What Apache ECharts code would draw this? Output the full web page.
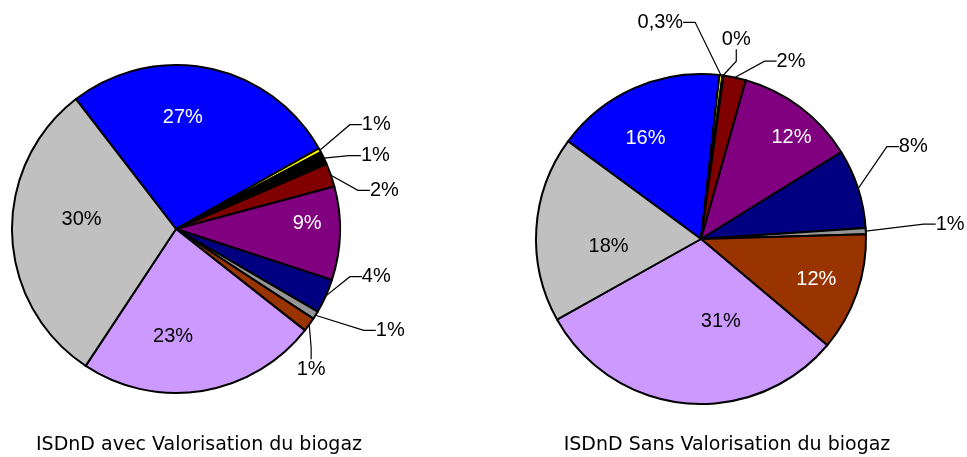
<!DOCTYPE html>
<html>
<head>
<meta charset="utf-8">
<script src="https://cdn.jsdelivr.net/npm/echarts@6/dist/echarts.min.js"></script>
<style>
  html, body { margin: 0; padding: 0; background: #fff; }
  #chart { width: 967px; height: 457px; }
</style>
</head>
<body>
<div id="chart"></div>
<script>
// ---------------- DATA ----------------
var categories = ['Catégorie 1', 'Catégorie 2', 'Catégorie 3', 'Catégorie 4', 'Catégorie 5',
                  'Catégorie 6', 'Catégorie 7', 'Catégorie 8', 'Catégorie 9', 'Catégorie 10'];
var valuesAvec = [27.3, 0.4, 1.3, 2.3, 9.2, 3.4, 0.8, 1.4, 23.7, 30.3];
var labelsAvec = ['27%', '1%', '1%', '2%', '9%', '4%', '1%', '1%', '23%', '30%'];
var valuesSans = [16.7, 0.3, 0.1, 2.2, 11.8, 7.75, 0.6, 11.6, 30.75, 18.2];
var labelsSans = ['16%', '0,3%', '0%', '2%', '12%', '8%', '1%', '12%', '31%', '18%'];
var titles = ['ISDnD avec Valorisation du biogaz', 'ISDnD Sans Valorisation du biogaz'];

// ---------------- STYLE ----------------
var colors = ['#0000FF', '#FFFF00', '#000000', '#800000', '#800080',
              '#000080', '#969696', '#993300', '#CC99FF', '#C0C0C0'];
var whiteText = [true, false, false, false, true, false, false, true, false, false];
// label placement relative to pie centre, in units of radius: [fx, fy, inside?, align]
var posAvec = [
  [0.042, -0.679, true], [1.115, -0.636, false], [1.109, -0.448, false], [1.164, -0.236, false],
  [0.800, -0.036, true], [1.115, 0.291, false], [1.200, 0.618, false], [0.824, 0.855, false, 'center'],
  [-0.018, 0.655, true], [-0.576, -0.055, true]
];
var posSans = [
  [-0.337, -0.608, true], [-0.090, -1.313, false, 'right'], [0.108, -1.211, false], [0.440, -1.078, false],
  [0.548, -0.614, true], [1.181, -0.560, false], [1.404, -0.090, false], [0.699, 0.247, true],
  [0.120, 0.500, true], [-0.560, 0.048, true]
];
var pies = [
  { values: valuesAvec, labels: labelsAvec, pos: posAvec, cx: 176, cy: 229, r: 164, start: 127.6 },
  { values: valuesSans, labels: labelsSans, pos: posSans, cx: 701, cy: 239, r: 165, start: 143.7 }
];

function buildSeries(p) {
  var data = p.values.map(function (v, i) {
    var inside = p.pos[i][2];
    return {
      name: categories[i],
      value: v,
      itemStyle: { color: colors[i] },
      label: {
        position: inside ? 'inside' : 'outside',
        color: inside && whiteText[i] ? '#ffffff' : '#000000',
        padding: inside ? 0 : [3, 3, 3, 3]
      },
      labelLine: { show: !inside }
    };
  });
  return {
    type: 'pie',
    center: [p.cx, p.cy],
    radius: [0, p.r],
    startAngle: p.start,
    clockwise: true,
    animation: false,
    silent: true,
    avoidLabelOverlap: false,
    itemStyle: { borderColor: '#000000', borderWidth: 2 },
    label: {
      show: true,
      fontFamily: 'Liberation Sans, Arial, sans-serif',
      fontSize: 20,
      formatter: function (q) { return p.labels[q.dataIndex]; }
    },
    labelLine: {
      show: true, length: 10, length2: 12, smooth: false,
      lineStyle: { color: '#000000', width: 1.2 }
    },
    labelLayout: function (q) {
      var s = p.pos[q.dataIndex];
      var o = { x: p.cx + s[0] * p.r, y: p.cy + s[1] * p.r };
      if (s[3]) o.align = s[3];
      return o;
    },
    data: data
  };
}

var chart = echarts.init(document.getElementById('chart'), null, { renderer: 'canvas' });
chart.setOption({
  backgroundColor: '#ffffff',
  animation: false,
  series: pies.map(buildSeries),
  graphic: [
    { type: 'text', x: 199, y: 445, style: { text: titles[0], fill: '#000', font: '19px "DejaVu Sans"', align: 'center', verticalAlign: 'middle' } },
    { type: 'text', x: 727, y: 445, style: { text: titles[1], fill: '#000', font: '19px "DejaVu Sans"', align: 'center', verticalAlign: 'middle' } }
  ]
});
</script>
</body>
</html>
